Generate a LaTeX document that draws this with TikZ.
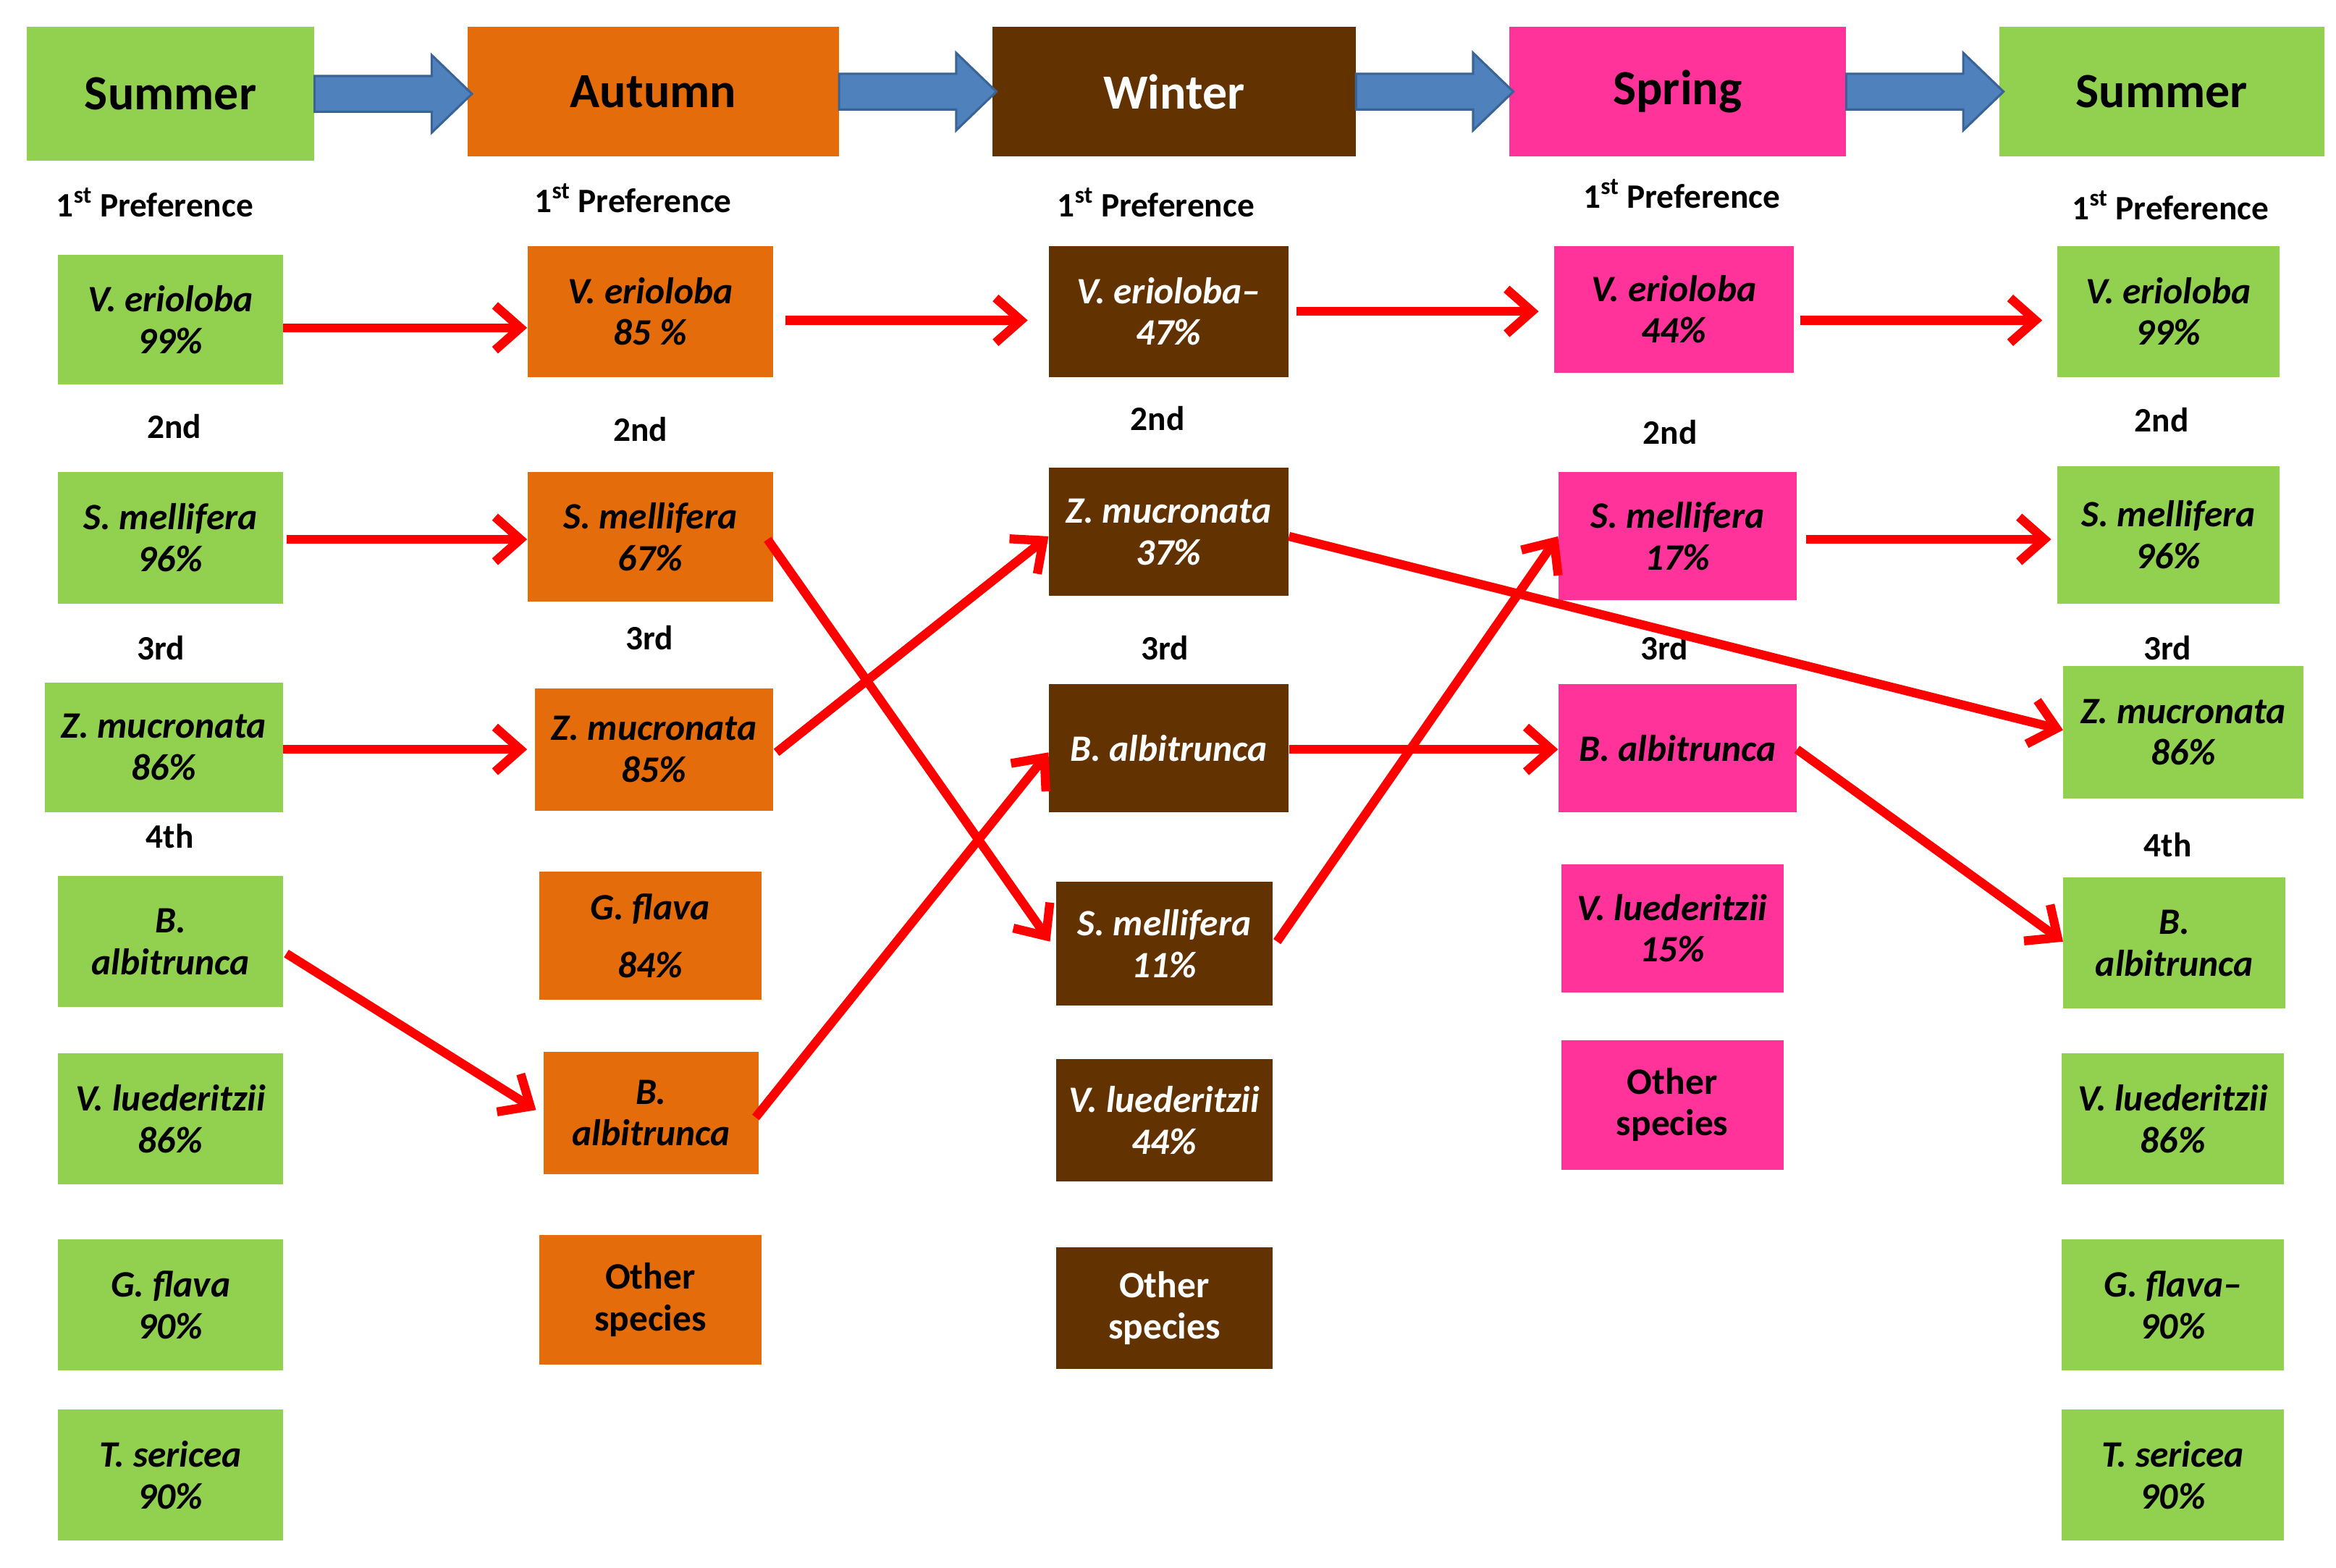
\documentclass[tikz,border=0pt]{standalone}
\usepackage{fontspec}
\setmainfont{Carlito}
\usetikzlibrary{arrows.meta,calc}
\definecolor{cgreen}{HTML}{92D050}
\definecolor{corange}{HTML}{E46C0A}
\definecolor{cbrown}{HTML}{623200}
\definecolor{cpink}{HTML}{FF3399}
\definecolor{cblue}{HTML}{4F81BD}
\definecolor{cblueedge}{HTML}{3A6496}
\definecolor{cred}{HTML}{FF0000}
\newcommand\seasonarrow[2]{%
  \draw[fill=cblue, draw=cblueedge, line width=1.5pt, line join=miter]
  let \p1=(#1.east), \p2=(#2.west) in
  (\x1,\y1+12pt) -- (\x2-24pt,\y1+12pt) -- (\x2-24pt,\y1+26pt) -- (\x2+3pt,\y1)
  -- (\x2-24pt,\y1-26pt) -- (\x2-24pt,\y1-12pt) -- (\x1,\y1-12pt) -- cycle;}
\begin{document}
\begin{tikzpicture}[x=1pt,y=-1pt,
  box/.style={inner sep=0pt, align=center, font=\fontsize{25}{28}\selectfont\bfseries\itshape},
  othbox/.style={box, font=\fontsize{25}{28}\selectfont\bfseries},
  gbox/.style={box, fill=cgreen, text=black},
  obox/.style={box, fill=corange, text=black},
  bbox/.style={box, fill=cbrown, text=white},
  pbox/.style={box, fill=cpink, text=black},
  headbox/.style={inner sep=0pt, font=\fontsize{33}{36}\selectfont\bfseries},
  rank/.style={inner sep=0pt, font=\fontsize{23}{26}\selectfont\bfseries},
  redarrow/.style={draw=cred, line width=6pt, -{Straight Barb[length=17pt,width=30pt]}},
  sz/.style 2 args={minimum width=#1pt, minimum height=#2pt}
]
\useasboundingbox (0,0) rectangle (1568,1052);
\fill[white] (0,0) rectangle (1568,1052);

% headers
\node[headbox, fill=cgreen, text=black, sz={193}{90}] (h1) at (114.5,63) {Summer};
\node[headbox, fill=corange, text=black, sz={249}{87}] (h2) at (438.5,61.5) {Autumn};
\node[headbox, fill=cbrown, text=white, sz={244}{87}] (h3) at (788,61.5) {Winter};
\node[headbox, fill=cpink, text=black, sz={226}{87}] (h4) at (1126,61.5) {Spring};
\node[headbox, fill=cgreen, text=black, sz={218}{87}] (h5) at (1451,61.5) {Summer};

\seasonarrow{h1}{h2}
\seasonarrow{h2}{h3}
\seasonarrow{h3}{h4}
\seasonarrow{h4}{h5}

% rank labels
\node[rank] (r1a) at (104,136) {1\textsuperscript{st} Preference};
\node[rank] (r1b) at (117,286) {2nd};
\node[rank] (r1c) at (108,435) {3rd};
\node[rank] (r1d) at (114,561) {4th};
\node[rank] (r2a) at (425,133) {1\textsuperscript{st} Preference};
\node[rank] (r2b) at (430,288) {2nd};
\node[rank] (r2c) at (436,428) {3rd};
\node[rank] (r3a) at (776,136) {1\textsuperscript{st} Preference};
\node[rank] (r3b) at (777,281) {2nd};
\node[rank] (r3c) at (782,435) {3rd};
\node[rank] (r4a) at (1129,130) {1\textsuperscript{st} Preference};
\node[rank] (r4b) at (1121,290) {2nd};
\node[rank] (r4c) at (1117,435) {3rd};
\node[rank] (r5a) at (1457,138) {1\textsuperscript{st} Preference};
\node[rank] (r5b) at (1451,282) {2nd};
\node[rank] (r5c) at (1455,435) {3rd};
\node[rank] (r5d) at (1455,567) {4th};

% column 1 (summer)
\node[gbox, sz={151}{87}] (g1) at (114.5,214.5) {V. erioloba\\99\%};
\node[gbox, sz={151}{88}] (g2) at (114.5,361) {S. mellifera\\96\%};
\node[gbox, sz={160}{87}] (g3) at (110,501.5) {Z. mucronata\\86\%};
\node[gbox, sz={151}{88}] (g4) at (114.5,632) {B.\\albitrunca};
\node[gbox, sz={151}{88}] (g5) at (114.5,751) {V. luederitzii\\86\%};
\node[gbox, sz={151}{88}] (g6) at (114.5,876) {G. flava\\90\%};
\node[gbox, sz={151}{88}] (g7) at (114.5,990) {T. sericea\\90\%};

% column 2 (autumn)
\node[obox, sz={165}{88}] (a1) at (436.5,209) {V. erioloba\\85 \%};
\node[obox, sz={165}{87}] (a2) at (436.5,360.5) {S. mellifera\\67\%};
\node[obox, sz={160}{82}] (a3) at (439,503) {Z. mucronata\\85\%};
\node[obox, sz={149}{86}] (a4) at (436.5,628) {G. flava\\[11pt]84\%};
\node[obox, sz={144}{82}] (a5) at (437,747) {B.\\albitrunca};
\node[obox, othbox, sz={149}{87}] (a6) at (436.5,872.5) {Other\\species};

% column 3 (winter)
\node[bbox, sz={161}{88}] (w1) at (784.5,209) {V. erioloba--\\47\%};
\node[bbox, sz={161}{86}] (w2) at (784.5,357) {Z. mucronata\\37\%};
\node[bbox, sz={161}{86}] (w3) at (784.5,502) {B. albitrunca};
\node[bbox, sz={145}{83}] (w4) at (781.5,633.5) {S. mellifera\\11\%};
\node[bbox, sz={145}{82}] (w5) at (781.5,752) {V. luederitzii\\44\%};
\node[bbox, othbox, sz={145}{82}] (w6) at (781.5,878) {Other\\species};

% column 4 (spring)
\node[pbox, sz={161}{85}] (p1) at (1123.5,207.5) {V. erioloba\\44\%};
\node[pbox, sz={160}{86}] (p2) at (1126,360) {S. mellifera\\17\%};
\node[pbox, sz={160}{86}] (p3) at (1126,502) {B. albitrunca};
\node[pbox, sz={149}{86}] (p4) at (1122.5,623) {V. luederitzii\\15\%};
\node[pbox, othbox, sz={149}{87}] (p5) at (1122.5,741.5) {Other\\species};

% column 5 (summer)
\node[gbox, sz={149}{88}] (t1) at (1455.5,209) {V. erioloba\\99\%};
\node[gbox, sz={149}{92}] (t2) at (1455.5,359) {S. mellifera\\96\%};
\node[gbox, sz={161}{89}] (t3) at (1465.5,491.5) {Z. mucronata\\86\%};
\node[gbox, sz={149}{88}] (t4) at (1459.5,633) {B.\\albitrunca};
\node[gbox, sz={149}{88}] (t5) at (1458.5,751) {V. luederitzii\\86\%};
\node[gbox, sz={149}{88}] (t6) at (1458.5,876) {G. flava--\\90\%};
\node[gbox, sz={149}{88}] (t7) at (1458.5,990) {T. sericea\\90\%};

% red arrows
\draw[redarrow] ([yshift=-5.5pt]g1.east) -- ([yshift=-11pt]a1.west);
\draw[redarrow] ([xshift=8pt,yshift=-6pt]a1.east) -- ([xshift=-14pt,yshift=-6pt]w1.west);
\draw[redarrow] ([xshift=5pt]w1.east) -- ([xshift=-10pt,yshift=-1.5pt]p1.west);
\draw[redarrow] ([xshift=4pt,yshift=-7.5pt]p1.east) -- ([xshift=-10pt,yshift=-6pt]t1.west);
\draw[redarrow] ([xshift=2pt,yshift=-1pt]g2.east) -- ([yshift=-1.5pt]a2.west);
\draw[redarrow] ([xshift=-4pt,yshift=-1.5pt]a2.east) -- ([xshift=-4pt,yshift=1.5pt]w4.west);
\draw[redarrow] ([yshift=-1.5pt]g3.east) -- ([xshift=-5pt]a3.west);
\draw[redarrow] ([xshift=2pt,yshift=-2pt]a3.east) -- ([yshift=-3pt]w2.west);
\draw[redarrow] ([xshift=2pt,yshift=-8pt]g4.east) -- ([xshift=-5pt,yshift=2pt]a5.west);
\draw[redarrow] ([xshift=-2pt,yshift=-3pt]a5.east) -- ([yshift=-3pt]w3.west);
\draw[redarrow] ([yshift=-1pt]w3.east) -- ([yshift=-1pt]p3.west);
\draw[redarrow] ([yshift=-3pt]w2.east) -- ([yshift=1.5pt]t3.west);
\draw[redarrow] ([xshift=3pt,yshift=1.5pt]w4.east) -- (p2.west);
\draw[redarrow] ([xshift=6pt,yshift=-2pt]p2.east) -- ([xshift=-4pt,yshift=-3pt]t2.west);
\draw[redarrow] ([yshift=-1pt]p3.east) -- ([yshift=1pt]t4.west);
\end{tikzpicture}
\end{document}
